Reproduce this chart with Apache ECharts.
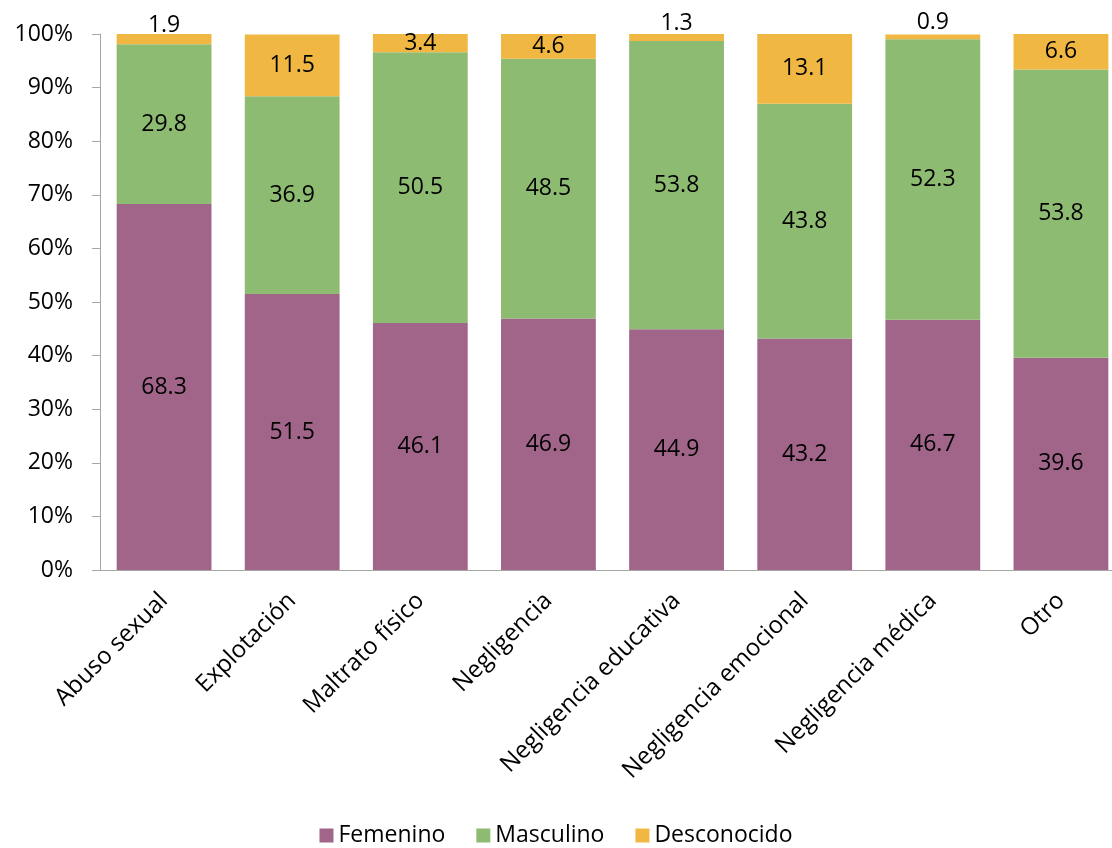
<!DOCTYPE html>
<html><head><meta charset="utf-8">
<script src="https://cdn.jsdelivr.net/npm/echarts@6/dist/echarts.min.js"></script>
<style>html,body{margin:0;padding:0;background:#fff}#c{width:1112px;height:848px}</style>
</head><body><div id="c"></div>
<script>
const categories = ["Abuso sexual","Explotación","Maltrato físico","Negligencia","Negligencia educativa","Negligencia emocional","Negligencia médica","Otro"];
const femenino = [68.3,51.5,46.1,46.9,44.9,43.2,46.7,39.6];
const masculino = [29.8,36.9,50.5,48.5,53.8,43.8,52.3,53.8];
const desconocido = [1.9,11.5,3.4,4.6,1.3,13.1,0.9,6.6];
const yTicks = ["0%","10%","20%","30%","40%","50%","60%","70%","80%","90%","100%"];

const FONT = "Open Sans";
const FS = 23;
const lbl = {show:true, position:'inside', color:'#000', fontSize:FS, fontFamily:FONT, formatter: p => p.value.toFixed(1)};
function mk(name, arr, color, smallTop){
  return {
    name, type:'bar', stack:'t', barCategoryGap:'26%',
    itemStyle:{color},
    label:lbl,
    data: arr.map(v => (smallTop && v < 2) ? {value:v, label:{offset:[0,-14]}} : v)
  };
}
const chart = echarts.init(document.getElementById('c'));
chart.setOption({
  animation:false,
  grid:{left:100, right:-13, top:34, bottom:278, outerBoundsMode:'none', containLabel:false},
  legend:{top:819, left:'center', itemWidth:14, itemHeight:14, itemGap:31, icon:'rect',
    textStyle:{fontSize:FS, fontFamily:FONT, color:'#000'}},
  xAxis:{type:'category', data:categories,
    axisLine:{lineStyle:{color:'#A6A6A6'}},
    axisTick:{length:8, lineStyle:{color:'#A6A6A6'}},
    axisLabel:{rotate:45, fontSize:24, fontFamily:FONT, color:'#000', margin:27, interval:0}},
  yAxis:{type:'value', min:0, max:100, interval:10,
    axisLine:{show:true, lineStyle:{color:'#A6A6A6'}},
    axisTick:{show:true, length:8, lineStyle:{color:'#A6A6A6'}},
    splitLine:{show:false},
    axisLabel:{fontSize:FS, fontFamily:FONT, color:'#000', margin:27, formatter: v => yTicks[Math.round(v/10)]}},
  series:[
    mk('Femenino', femenino, '#A2658A'),
    mk('Masculino', masculino, '#8DBB71'),
    mk('Desconocido', desconocido, '#F0B843', true)
  ]
});
</script></body></html>
